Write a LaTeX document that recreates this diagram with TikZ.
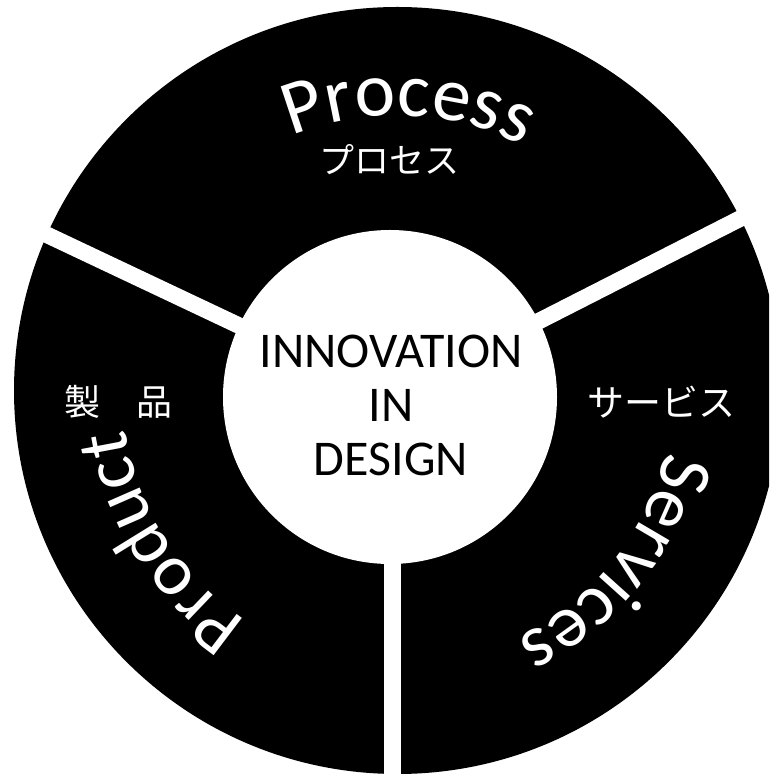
\documentclass[tikz,border=0pt]{standalone}
\usepackage{fontspec}
\usetikzlibrary{decorations.text,calc}
\newfontfamily\carl{Carlito}
\newfontfamily\cjk{Noto Sans CJK JP}
\begin{document}
\begin{tikzpicture}[x=1pt,y=1pt,
  ringtext/.style 2 args={decorate, decoration={text along path, text align=center,
      text color=white, text={|\carl\fontsize{#1}{#1}\selectfont|#2}}},
  jptext/.style={text=white, inner sep=0pt, font=\cjk\fontsize{#1}{#1}\selectfont},
  gapline/.style={white, line width=#1},
]
\useasboundingbox (0,0) rectangle (769,776);
\clip (0,0) rectangle (769,776);
\coordinate (O) at (397.5,385.5);
\coordinate (C) at (390,379);
\coordinate (G) at (392.5,379);
\coordinate (Gend) at (392.5,-30);
\coordinate (Lend) at ($(C)+(154.7:540)$);
\coordinate (Rend) at ($(C)+(27:540)$);
% outer disk
\fill[black] (O) circle[radius=383.5];
% white gaps
\draw[gapline=16.5pt] (C) -- (Lend);
\draw[gapline=16.5pt] (C) -- (Rend);
\draw[gapline=17pt] (G) -- (Gend);
% inner circle
\node[circle, fill=white, minimum size=334pt, inner sep=0pt] (core) at (C) {};
\node[inner sep=0pt, align=center, text=black, font=\carl\fontsize{50}{54}\selectfont] (title) at (391,370.5) {INNOVATION\\IN\\DESIGN};
% curved words
\path[ringtext={77}{Process}] (O) ++(122.7:275) arc[start angle=122.7, end angle=52.7, radius=275];
\path[ringtext={73}{Product}] (O) ++(247.5:275) arc[start angle=247.5, end angle=177.5, radius=275];
\path[ringtext={75}{Services}] (O) ++(-3.5:275) arc[start angle=-3.5, end angle=-73.5, radius=275];
% Japanese labels
\node[jptext=35] (procjp) at (389,616) {プロセス};
\node[jptext=37] (servjp) at (661,374) {サービス};
\node[jptext=36] (prodjp) at (118,374) {製　品};
\end{tikzpicture}
\end{document}
